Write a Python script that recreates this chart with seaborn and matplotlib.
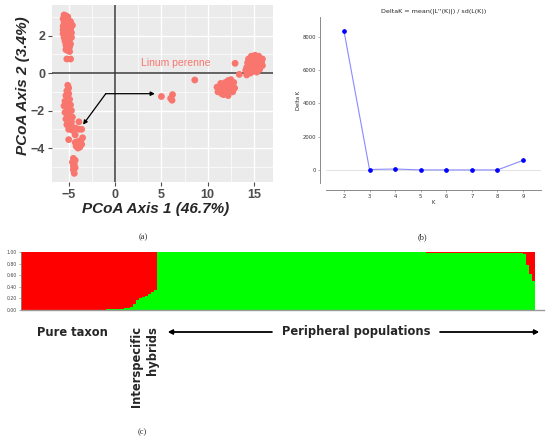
import numpy as np
import seaborn as sns
import matplotlib.pyplot as plt
from matplotlib.ticker import MultipleLocator

sns.set_theme(style="white")
plt.rcParams['font.family'] = ['DejaVu Sans']

# ---- panel (a): PCoA coordinates ----
pure_top_x = [-5.5, -5.3, -5.1, -5.4, -5.2, -5.0, -4.8, -5.5, -5.3, -5.1, -4.9, -4.6, -5.6,
              -5.4, -5.2, -5.0, -4.8, -5.5, -5.3, -5.1, -4.9, -4.7, -5.6, -5.4, -5.2, -5.0,
              -4.8, -5.5, -5.3, -5.1, -4.9, -5.4, -5.2, -5.0, -4.8, -5.3, -5.1, -4.9, -5.2,
              -5.0, -5.3, -5.1, -4.9, -5.2, -4.8, -5.6, -5.6, -4.7, -4.7]
pure_top_y = [3.1, 3.05, 3.0, 2.9, 2.85, 2.8, 2.75, 2.7, 2.65, 2.6, 2.6, 2.55, 2.5,
              2.45, 2.4, 2.4, 2.35, 2.3, 2.25, 2.2, 2.2, 2.15, 2.1, 2.05, 2.0, 2.0,
              1.95, 1.9, 1.85, 1.8, 1.8, 1.7, 1.65, 1.6, 1.55, 1.5, 1.45, 1.4, 1.35,
              1.3, 1.25, 1.2, 1.15, 0.75, 0.75, 2.9, 2.3, 2.5, 1.9]

pure_low_x = [-5.1, -5.0, -5.2, -5.0, -5.3, -5.1, -4.9, -5.4, -5.2, -5.0, -4.8, -5.5, -5.3,
              -5.1, -4.9, -4.7, -5.4, -5.2, -5.0, -4.8, -4.6, -5.3, -5.1, -4.9, -4.7, -5.2,
              -5.0, -4.8, -4.5, -4.2, -3.9, -3.6, -3.9, -4.6, -5.0, -4.3, -5.0, -3.5, -3.7,
              -4.0, -4.3, -3.6, -3.9, -4.2, -4.0, -3.8, -4.5, -4.3, -4.6, -4.4, -4.5, -4.3,
              -4.5, -4.4]
pure_low_y = [-0.65, -0.8, -0.95, -1.1, -1.2, -1.3, -1.4, -1.5, -1.55, -1.6, -1.7, -1.75, -1.8,
              -1.9, -1.95, -2.0, -2.1, -2.15, -2.2, -2.3, -2.35, -2.45, -2.5, -2.55, -2.6, -2.75,
              -2.8, -2.85, -2.9, -2.95, -3.0, -3.0, -2.6, -3.05, -3.0, -3.3, -3.55, -3.45, -3.6,
              -3.65, -3.7, -3.8, -3.85, -3.9, -4.0, -3.95, -4.55, -4.65, -4.75, -4.85, -4.95, -5.05,
              -5.15, -5.35]

hybrid_x = [5.0, 6.0, 6.2, 6.15, 8.6]
hybrid_y = [-1.25, -1.35, -1.15, -1.45, -0.37]

periph_mid_x = [11.0, 11.1, 11.3, 11.5, 11.6, 11.8, 11.9, 12.0, 12.1, 12.2, 12.3, 12.4, 12.5,
                12.6, 12.7, 12.8, 12.2, 11.4, 12.9, 11.7, 12.95, 13.4, 14.2, 14.1]
periph_mid_y = [-0.75, -1.0, -0.9, -1.1, -0.7, -0.9, -0.5, -1.05, -0.75, -1.2, -0.6, -0.9, -0.35,
                -0.75, -1.0, -0.5, -0.4, -0.55, -0.8, -1.15, 0.52, -0.07, -0.1, 0.15]

periph_far_x = [14.2, 14.3, 14.4, 14.5, 14.6, 14.7, 14.8, 14.9, 15.0, 15.0, 15.1, 15.2, 15.2,
                15.3, 15.4, 15.4, 15.5, 15.6, 15.7, 15.8, 15.9, 14.6, 14.9, 15.6, 14.4, 15.1,
                14.7, 15.3, 15.9, 14.8]
periph_far_y = [0.3, 0.55, 0.1, 0.4, 0.7, 0.2, 0.5, 0.85, 0.3, 0.6, 0.95, 0.15, 0.45,
                0.75, 0.3, 0.6, 0.9, 0.45, 0.7, 0.55, 0.75, 0.0, 0.1, 0.2, 0.75, 0.75,
                0.9, 0.05, 0.4, 0.35]

pcoa1 = pure_top_x + pure_low_x + hybrid_x + periph_mid_x + periph_far_x
pcoa2 = pure_top_y + pure_low_y + hybrid_y + periph_mid_y + periph_far_y

# ---- panel (b): Evanno delta K ----
k_values = [2, 3, 4, 5, 6, 7, 8, 9]
delta_k = [8380, 30, 60, 5, 3, 3, 5, 580]

# ---- panel (c): STRUCTURE membership (green cluster share per individual) ----
pure_q = [0.0] * 27
low_admix_q = [0.005, 0.01, 0.01, 0.015, 0.02, 0.02, 0.025, 0.03, 0.04, 0.06]
hybrid_q = [0.10, 0.17, 0.21, 0.23, 0.25, 0.28, 0.31, 0.35]
periph_q = [1.0] * 89 + [0.985] * 32
tail_q = [0.96, 0.78, 0.62, 0.50]
green_q = pure_q + low_admix_q + hybrid_q + periph_q + tail_q
n_ind = len(green_q)

W, H = 550, 438
fig = plt.figure(figsize=(W / 100, H / 100), dpi=100)


def px_axes(l, t, r, b):
    return fig.add_axes([l / W, 1 - b / H, (r - l) / W, (b - t) / H])


def fig_xy(x, y):
    return x / W, 1 - y / H


# panel (a)
gg_font = ['Liberation Sans', 'DejaVu Sans']
ax1 = px_axes(52, 5, 273, 182)
ax1.set_facecolor('#EBEBEB')
sns.scatterplot(x=pcoa1, y=pcoa2, color='#F8766D', s=24, edgecolor='none', ax=ax1, zorder=3)
ax1.set_xlim(-6.8, 17.04)
ax1.set_ylim(-5.81, 3.63)
ax1.xaxis.set_major_locator(MultipleLocator(5))
ax1.xaxis.set_minor_locator(MultipleLocator(2.5))
ax1.yaxis.set_major_locator(MultipleLocator(2))
ax1.yaxis.set_minor_locator(MultipleLocator(1))
ax1.grid(which='major', color='white', lw=1.0)
ax1.grid(which='minor', color='white', lw=0.5)
ax1.set_axisbelow(True)
for s in ax1.spines.values():
    s.set_visible(False)
ax1.axvline(0, color='#3a3a3a', lw=1.1, zorder=2)
ax1.axhline(0, color='#3a3a3a', lw=1.1, zorder=2)
ax1.tick_params(which='major', length=3, width=0.8, color='#4D4D4D', pad=2,
                labelsize=9, labelcolor='#4D4D4D', bottom=True, left=True)
ax1.tick_params(which='minor', length=0)
for lab in ax1.get_xticklabels() + ax1.get_yticklabels():
    lab.set_fontweight('bold')
    lab.set_family(gg_font)
ax1.set_xlabel('PCoA Axis 1 (46.7%)', fontsize=11, fontweight='bold', style='italic',
               family=gg_font)
ax1.set_ylabel('PCoA Axis 2 (3.4%)', fontsize=11, fontweight='bold', style='italic',
               family=gg_font)
ax1.xaxis.set_label_coords((156 - 52) / 221, (182 - 202) / 177)
ax1.yaxis.set_label_coords((30 - 52) / 221, (182 - 86) / 177)
ax1.text(6.5, 0.55, 'Linum perenne', color='#F8766D', fontsize=7.5, family=gg_font,
         ha='center', va='center')
arrow = dict(arrowstyle='-|>', color='black', lw=0.9, mutation_scale=6, shrinkA=0, shrinkB=0)
ax1.annotate('', xy=(4.3, -1.1), xytext=(-1.0, -1.1), arrowprops=arrow)
ax1.annotate('', xy=(-3.45, -2.75), xytext=(-1.0, -1.1), arrowprops=arrow)

# panel (b)
ax2 = px_axes(326, 17, 541, 183)
ax2.axhline(0, color='#dddddd', lw=0.6, zorder=0)
sns.lineplot(x=k_values, y=delta_k, ax=ax2, color='#8a8aff', lw=0.8, marker='o',
             markersize=2.6, markerfacecolor='#0000ff', markeredgecolor='#0000ff')
ax2.set_xlim(1.3, 9.7)
ax2.set_ylim(-782, 9203)
ax2.set_xticks(k_values)
ax2.set_yticks([0, 2000, 4000, 6000, 8000])
for side in ['top', 'right']:
    ax2.spines[side].set_visible(False)
ax2.spines['left'].set_position(('outward', 4))
ax2.spines['bottom'].set_position(('outward', 5))
for side in ['left', 'bottom']:
    ax2.spines[side].set_color('#777777')
    ax2.spines[side].set_linewidth(0.6)
ax2.tick_params(length=1.5, width=0.4, color='#777777', pad=1.5, labelsize=3.8,
                labelcolor='#333333', bottom=True, left=True)
ax2.set_xlabel('K', fontsize=3.8, labelpad=0.5)
ax2.set_ylabel('Delta K', fontsize=3.8, labelpad=1.5)
ax2.set_title("DeltaK = mean(|L''(K)|) / sd(L(K))", fontsize=4.6, pad=3)

# panel (c)
ax3 = px_axes(21, 252, 544, 310)
ind = list(range(n_ind))
sns.barplot(x=ind, y=[1.0] * n_ind, color='#FF0000', width=1, saturation=1,
            linewidth=0, errorbar=None, ax=ax3, antialiased=False)
sns.barplot(x=ind, y=green_q, color='#00FF00', width=1, saturation=1,
            linewidth=0, errorbar=None, ax=ax3, antialiased=False)
ax3.set_xlim(-0.5, n_ind - 0.5 + 3)
ax3.set_ylim(0, 1)
ax3.set_xticks([])
ax3.set_yticks([0, 0.2, 0.4, 0.6, 0.8, 1.0])
ax3.set_yticklabels(['0.00', '0.20', '0.40', '0.60', '0.80', '1.00'])
ax3.set_xlabel('')
ax3.set_ylabel('')
for side in ['top', 'right']:
    ax3.spines[side].set_visible(False)
ax3.spines['left'].set_color('#888888')
ax3.spines['bottom'].set_color('#999999')
ax3.spines['left'].set_linewidth(0.6)
ax3.spines['bottom'].set_linewidth(1.0)
ax3.tick_params(axis='y', length=1.5, width=0.5, color='#888888', pad=1.5, labelsize=3.3,
                labelcolor='#444444', left=True)

fig.text(*fig_xy(72, 332), 'Pure taxon', fontsize=8.3, fontweight='bold', ha='center', va='center')
fig.text(*fig_xy(356, 332), 'Peripheral populations', fontsize=8.3, fontweight='bold',
         ha='center', va='center')
fig.text(*fig_xy(137, 326), 'Interspecific', fontsize=8.3, fontweight='bold', rotation=90,
         ha='center', va='top')
fig.text(*fig_xy(153, 326), 'hybrids', fontsize=8.3, fontweight='bold', rotation=90,
         ha='center', va='top')
farrow = dict(arrowstyle='-|>', color='black', lw=1.0, mutation_scale=7, shrinkA=0, shrinkB=0)
fig.add_artist(plt.annotate('', xy=fig_xy(168, 332), xytext=fig_xy(272, 332),
                            xycoords='figure fraction', arrowprops=farrow))
fig.add_artist(plt.annotate('', xy=fig_xy(539, 332), xytext=fig_xy(440, 332),
                            xycoords='figure fraction', arrowprops=farrow))

for lbl, (x, y) in [('(a)', (143, 237)), ('(b)', (422, 237)), ('(c)', (142, 432))]:
    fig.text(*fig_xy(x, y), lbl, fontsize=6, family='Liberation Serif', ha='center', va='center')

fig.savefig('out.png', dpi=100)
